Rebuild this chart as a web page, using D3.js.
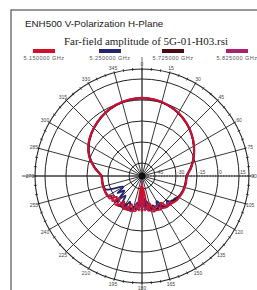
<!DOCTYPE html>
<html>
<head>
<meta charset="utf-8">
<script src="https://cdn.jsdelivr.net/npm/d3@7"></script>
<style>
  body { margin: 0; background: #fff; }
  svg { display: block; }
</style>
</head>
<body>
<svg width="257" height="290"></svg>
<script>
// angles in degrees, clockwise from top
var angles = [0, 10, 20, 30, 40, 50, 60, 70, 80, 90, 100, 110, 120,
  125, 130, 135, 140, 145, 150, 155, 160, 165, 170, 175, 180, 185, 190, 195,
  200, 205, 210, 215, 220, 225, 230, 235, 240,
  250, 260, 270, 280, 290, 300, 310, 320, 330, 340, 350];

var f5150 = [1.4, 1.0, -0.3, -2.3, -4.9, -8.0, -11.4, -15.0, -18.6, -22.2, -22.6, -23.0, -23.8,
  -24.2, -25.0, -25.6, -26.0, -31.0, -27.0, -27.6, -28.2, -34.0, -29.0, -46.0, -28.5, -47.0, -29.0, -28.8,
  -33.0, -28.2, -27.6, -32.0, -27.0, -26.6, -31.0, -26.2, -26.0,
  -25.6, -25.5, -25.2, -19.8, -14.2, -10.0, -7.0, -4.4, -2.0, -0.2, 1.0];

var f5250 = [1.2, 0.8, -0.5, -2.5, -5.1, -8.2, -11.6, -15.2, -18.9, -22.5, -23.0, -23.4, -24.5,
  -26.0, -25.4, -29.0, -26.5, -28.0, -33.5, -28.0, -29.0, -30.0, -36.0, -30.5, -44.0, -31.0, -35.0, -29.5,
  -29.0, -34.0, -28.5, -28.0, -36.0, -30.0, -38.0, -33.0, -39.0,
  -26.5, -25.8, -25.6, -20.2, -14.6, -10.4, -7.3, -4.7, -2.3, -0.5, 0.8];

var f5725 = [1.3, 0.9, -0.4, -2.4, -5.0, -8.1, -11.5, -15.1, -18.7, -22.4, -22.8, -23.2, -24.0,
  -24.8, -27.0, -25.8, -26.3, -27.0, -29.5, -27.8, -32.0, -29.0, -30.0, -38.0, -30.0, -37.0, -30.0, -31.5,
  -28.4, -28.0, -31.0, -27.8, -27.2, -29.0, -27.0, -28.0, -26.3,
  -25.8, -25.6, -25.4, -20.0, -14.4, -10.2, -7.1, -4.5, -2.1, -0.3, 0.9];

var f5825 = [1.6, 1.2, -0.1, -2.1, -4.7, -7.8, -11.2, -14.8, -18.4, -22.0, -22.4, -22.8, -23.6,
  -24.0, -24.8, -27.5, -25.8, -26.5, -28.0, -31.0, -27.5, -28.5, -33.0, -29.5, -50.0, -29.5, -33.5, -28.5,
  -28.0, -30.5, -27.4, -29.0, -26.8, -32.0, -26.5, -30.0, -25.8,
  -25.4, -25.3, -25.0, -19.6, -14.0, -9.8, -6.8, -4.2, -1.8, 0.0, 1.2];

var seriesNames = ['5.150000 GHz', '5.250000 GHz', '5.725000 GHz', '5.825000 GHz'];
var ringValues = [-45, -30, -15, 0, 15];
var angleTicks = d3.range(0, 360, 15);

var colors = ['#d11028', '#23236e', '#4a0c12', '#a8226c'];

var svg = d3.select('svg');

// frame
svg.append('rect')
  .attr('x', 11).attr('y', 10)
  .attr('width', 270).attr('height', 300)
  .attr('fill', 'none')
  .attr('stroke', '#333')
  .attr('stroke-width', 1);

svg.append('text')
  .attr('x', 25).attr('y', 27)
  .style('font-family', 'Liberation Sans, Arial, sans-serif')
  .style('font-size', '9.8px')
  .attr('fill', '#222')
  .text('ENH500 V-Polarization H-Plane');

svg.append('text')
  .attr('x', 146).attr('y', 45)
  .attr('text-anchor', 'middle')
  .style('font-family', 'Liberation Serif, Times New Roman, serif')
  .style('font-size', '11px')
  .attr('fill', '#222')
  .text('Far-field amplitude of 5G-01-H03.rsi');

// legend
var legendX = [44, 110, 173, 237];
var legend = svg.selectAll('.legend')
  .data(seriesNames)
  .enter().append('g')
  .attr('class', 'legend')
  .attr('transform', function(d, i) { return 'translate(' + legendX[i] + ',0)'; });

legend.append('rect')
  .attr('x', -11).attr('y', 49)
  .attr('width', 22).attr('height', 4)
  .attr('fill', function(d, i) { return colors[i]; });

legend.append('text')
  .attr('y', 60)
  .attr('text-anchor', 'middle')
  .style('font-family', 'Liberation Sans, Arial, sans-serif')
  .style('font-size', '5.5px')
  .style('letter-spacing', '0.45px')
  .attr('fill', '#555')
  .text(function(d) { return d; });

// polar area
var cx = 142, cy = 176, outerR = 107;
var r = d3.scaleLinear().domain([-54.3, 15]).range([0, 97]).clamp(true);

var g = svg.append('g').attr('transform', 'translate(' + cx + ',' + cy + ')');

// vertical axis
g.append('line')
  .attr('x1', 0).attr('y1', -119).attr('x2', 0).attr('y2', 120)
  .attr('stroke', '#999').attr('stroke-width', 1.4);

// horizontal axis
g.append('line')
  .attr('x1', -120).attr('y1', 0).attr('x2', 0).attr('y2', 0)
  .attr('stroke', '#555').attr('stroke-width', 1);
g.append('line')
  .attr('x1', 0).attr('y1', 0).attr('x2', 112).attr('y2', 0)
  .attr('stroke', '#222').attr('stroke-width', 1.2)
  .attr('stroke-dasharray', '1.5,1.2');

// spokes
g.selectAll('.spoke')
  .data(angleTicks)
  .enter().append('line')
  .attr('class', 'spoke')
  .attr('x1', 0).attr('y1', 0)
  .attr('x2', function(d) { return outerR * Math.sin(d * Math.PI / 180); })
  .attr('y2', function(d) { return -outerR * Math.cos(d * Math.PI / 180); })
  .attr('stroke', '#222').attr('stroke-width', 0.9);

// rings
g.selectAll('.ring')
  .data(ringValues)
  .enter().append('circle')
  .attr('class', 'ring')
  .attr('r', function(d) { return r(d); })
  .attr('fill', 'none')
  .attr('stroke', '#222').attr('stroke-width', 1);

g.append('circle')
  .attr('r', outerR)
  .attr('fill', 'none')
  .attr('stroke', '#222').attr('stroke-width', 1.1);

// ticks on outer ring
g.selectAll('.otick')
  .data(d3.range(0, 360, 5))
  .enter().append('line')
  .attr('class', 'otick')
  .attr('x1', function(d) { return (outerR - 1.5) * Math.sin(d * Math.PI / 180); })
  .attr('y1', function(d) { return -(outerR - 1.5) * Math.cos(d * Math.PI / 180); })
  .attr('x2', function(d) { return (outerR + 1.5) * Math.sin(d * Math.PI / 180); })
  .attr('y2', function(d) { return -(outerR + 1.5) * Math.cos(d * Math.PI / 180); })
  .attr('stroke', '#222').attr('stroke-width', 0.8);

// angle labels
g.selectAll('.alabel')
  .data(angleTicks)
  .enter().append('text')
  .attr('class', 'alabel')
  .attr('x', function(d) { return (outerR + 5) * Math.sin(d * Math.PI / 180); })
  .attr('y', function(d) { return -(outerR + 5) * Math.cos(d * Math.PI / 180) + 2; })
  .attr('text-anchor', 'middle')
  .style('font-family', 'Liberation Sans, Arial, sans-serif')
  .style('font-size', '5px')
  .attr('fill', '#444')
  .text(function(d) { return d; });

// ring labels
g.selectAll('.rlabel')
  .data(ringValues)
  .enter().append('text')
  .attr('class', 'rlabel')
  .attr('x', function(d) { return r(d) + 1; })
  .attr('y', -2)
  .style('font-family', 'Liberation Sans, Arial, sans-serif')
  .style('font-size', '5px')
  .attr('fill', '#444')
  .text(function(d) { return d; });

// pattern curves
var allSeries = [f5150, f5250, f5725, f5825];
var line = d3.lineRadial()
  .angle(function(d) { return d[0] * Math.PI / 180; })
  .radius(function(d) { return r(d[1]); })
  .curve(d3.curveCatmullRomClosed.alpha(0.5));

var drawOrder = [1, 2, 3, 0];
drawOrder.forEach(function(i) {
  g.append('path')
    .datum(angles.map(function(a, k) { return [a, allSeries[i][k]]; }))
    .attr('d', line)
    .attr('fill', 'none')
    .attr('stroke', colors[i])
    .attr('stroke-width', 1.8);
});

// center dot
g.append('circle').attr('r', 3.5).attr('fill', '#111');
</script>
</body>
</html>
